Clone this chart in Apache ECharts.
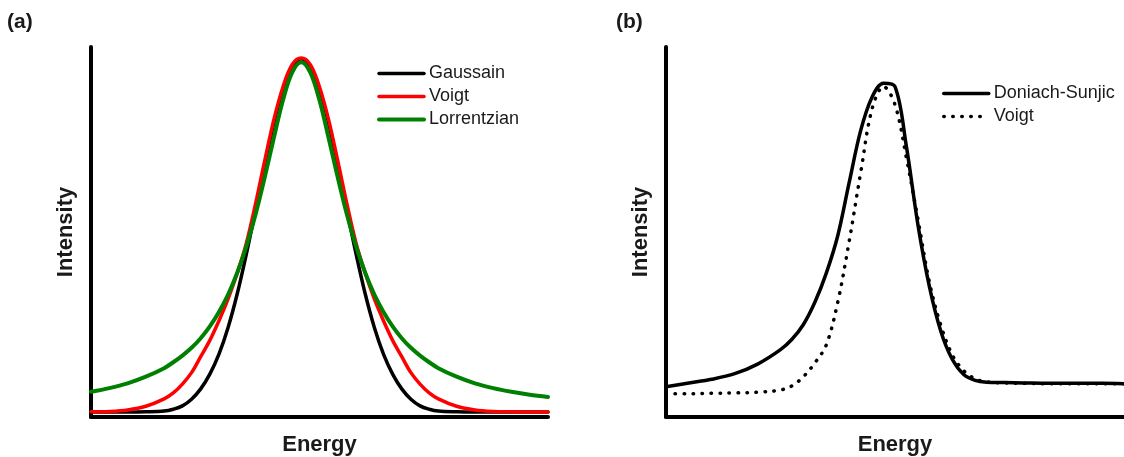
<!DOCTYPE html>
<html>
<head>
<meta charset="utf-8">
<script src="https://cdn.jsdelivr.net/npm/echarts@6/dist/echarts.min.js"></script>
<style>
  html, body { margin: 0; padding: 0; background: #fff; }
  #chart { width: 1124px; height: 457px; }
</style>
</head>
<body>
<div id="chart"></div>
<script>
// Panel (a): symmetric line shapes, energy in arbitrary units (0-100)
const energyA = [0,4,8,12,16,18,20,22,24,26,28,30,32,34,36,38,40,42,44,46,48,50,52,54,56,58,60,62,64,66,68,70,72,74,76,80,84,88,92,96,100];
const gaussain = [1.35,1.35,1.35,1.4,1.6,2.1,3.0,4.8,7.6,11.6,17.0,24.2,33.3,44.1,56.0,68.1,79.4,88.6,94.7,96.8,94.7,88.6,79.4,68.1,56.0,44.1,33.3,24.2,17.0,11.6,7.6,4.8,3.0,2.1,1.6,1.4,1.35,1.35,1.35,1.35,1.35];
const voigtA = [1.4,1.5,1.9,2.9,4.9,6.5,8.9,12.0,16.3,20.7,26.0,31.9,38.9,47.0,57.6,69.2,80.3,89.2,95.2,97.0,95.2,89.2,80.3,69.2,57.6,47.0,38.9,31.9,26.0,20.7,16.3,12.0,8.9,6.5,4.9,2.9,1.9,1.5,1.4,1.35,1.35];
const lorrentzian = [6.8,7.8,9.1,10.9,13.2,14.8,16.6,18.7,21.3,24.5,28.4,33.1,39.0,46.1,54.7,64.7,75.4,85.6,93.1,95.9,93.1,85.6,75.4,64.7,54.7,46.1,39.0,33.1,28.4,24.5,21.3,18.7,16.6,14.8,13.2,10.9,9.1,7.8,6.8,6.0,5.4];

// Panel (b): asymmetric Doniach-Sunjic profile against a Voigt profile
const energyB = [0,5,10,15,20,25,27.5,30,32.5,35,37.5,40,42.5,45,47.5,50,52.5,55,57.5,60,62.5,65,67.5,70,74,78,84,90,95,100];
const doniachSunjic = [8.2,9.2,10.2,11.7,14.3,18.2,21.0,25.0,31.0,38.9,49.0,63.4,77.4,86.5,90.2,89.3,73.0,52.0,35.3,23.2,15.6,11.5,9.9,9.4,9.3,9.2,9.1,9.1,9.1,9.0];
const voigtB = [6.3,6.3,6.4,6.5,6.7,7.3,8.4,10.9,14.6,19.5,31.0,47.5,66.0,83.3,89.3,84.4,70.0,53.5,36.5,24.8,16.8,12.5,10.3,9.5,9.2,9.1,9.0,9.0,9.0,9.0];

const FONT = 'Liberation Sans, Arial, sans-serif';
const TEXT = '#1a1a1a';

function pairs(xs, ys) { return xs.map((x, i) => [x, ys[i]]); }

function axisPair(gridIndex) {
  const line = { show: true, onZero: false, lineStyle: { color: '#000', width: 4 } };
  const nameStyle = { fontFamily: FONT, fontSize: 22, fontWeight: 'bold', color: TEXT };
  return {
    x: {
      type: 'value', gridIndex, min: 0, max: 100,
      name: 'Energy', nameLocation: 'middle', nameGap: 17, nameTextStyle: nameStyle,
      axisLine: line, axisTick: { show: false }, axisLabel: { show: false }, splitLine: { show: false }
    },
    y: {
      type: 'value', gridIndex, min: 0, max: 100,
      name: 'Intensity', nameLocation: 'middle', nameGap: 14, nameTextStyle: nameStyle,
      axisLine: line, axisTick: { show: false }, axisLabel: { show: false }, splitLine: { show: false }
    }
  };
}

const a = axisPair(0), b = axisPair(1);

function curve(name, xi, xs, ys, color, width, type) {
  return {
    name, type: 'line', xAxisIndex: xi, yAxisIndex: xi,
    data: pairs(xs, ys), smooth: 0.35,
    symbol: 'none', showSymbol: false, silent: true,
    lineStyle: { color, width, type: type || 'solid', cap: 'round' },
    itemStyle: { color }
  };
}

const legendBase = {
  orient: 'vertical', itemWidth: 45, itemHeight: 14, itemGap: 5,
  padding: 0, selectedMode: false,
  textStyle: { fontFamily: FONT, fontSize: 18, color: TEXT },
  itemStyle: { opacity: 0, borderWidth: 0 },
  lineStyle: { width: 'inherit', type: 'inherit', cap: 'inherit', opacity: 1 }
};

const option = {
  animation: false,
  backgroundColor: '#fff',
  title: [
    { text: '(a)', left: 7, top: 12, padding: 0, textStyle: { fontFamily: FONT, fontSize: 21, fontWeight: 'bold', color: TEXT } },
    { text: '(b)', left: 616, top: 12, padding: 0, textStyle: { fontFamily: FONT, fontSize: 21, fontWeight: 'bold', color: TEXT } }
  ],
  grid: [
    { left: 91, top: 47, width: 457, height: 370, outerBoundsMode: 'none' },
    { left: 666, top: 47, width: 458, height: 370, outerBoundsMode: 'none' }
  ],
  xAxis: [a.x, b.x],
  yAxis: [a.y, b.y],
  legend: [
    Object.assign({}, legendBase, { left: 377, top: 64.5, data: ['Gaussain', 'Voigt', 'Lorrentzian'] }),
    Object.assign({}, legendBase, { left: 942, top: 84.5, data: ['Doniach-Sunjic', 'Voigt '] })
  ],
  series: [
    curve('Gaussain', 0, energyA, gaussain, '#000000', 3.5),
    curve('Voigt', 0, energyA, voigtA, '#ff0000', 3.5),
    curve('Lorrentzian', 0, energyA, lorrentzian, '#008000', 4),
    curve('Voigt ', 1, energyB, voigtB, '#000000', 3.5, [0.5, 8.5]),
    curve('Doniach-Sunjic', 1, energyB, doniachSunjic, '#000000', 3.5)
  ]
};

const chart = echarts.init(document.getElementById('chart'), null, { renderer: 'canvas' });
chart.setOption(option);
</script>
</body>
</html>
